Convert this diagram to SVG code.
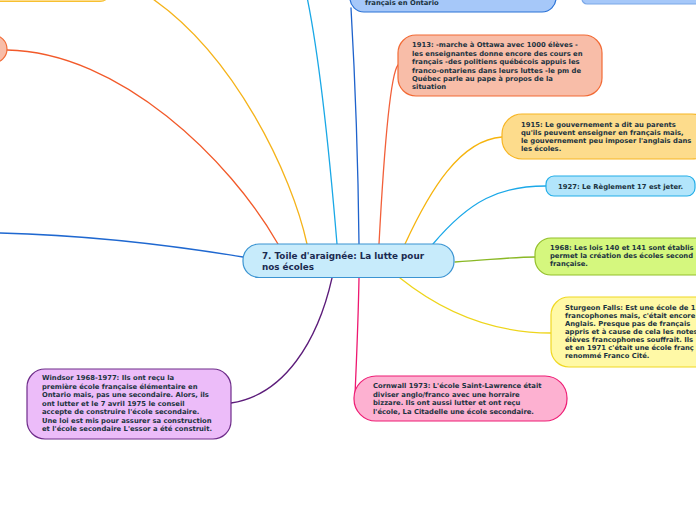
<svg xmlns="http://www.w3.org/2000/svg" width="696" height="520" viewBox="0 0 696 520">
<style>
.c{fill:none;stroke-width:1.3;stroke-linecap:round}
.t{font-family:"DejaVu Sans","Liberation Sans",sans-serif;font-weight:bold;font-size:6.8px;fill:#1b3340}
.title{font-family:"DejaVu Sans","Liberation Sans",sans-serif;font-weight:bold;font-size:8.8px;fill:#1a2a50}
.n{stroke-width:1.2}
</style>
<rect x="0" y="0" width="696" height="520" fill="#ffffff"/>
<g id="connectors">
<path class="c" stroke="#f5b31a" d="M307,244 C292,175 235,55 150,-3"/>
<path class="c" stroke="#f25a2a" d="M278,244 C230,160 120,52 7,50"/>
<path class="c" stroke="#1f68d0" d="M243,257 C170,245 80,235 0,233"/>
<path class="c" stroke="#1aa8e6" d="M337,244 C330,160 320,60 307,-3"/>
<path class="c" stroke="#1e62cc" d="M359,244 C358,150 354,60 351,8"/>
<path class="c" stroke="#f2603a" d="M379,244 C384,150 390,75 398,65"/>
<path class="c" stroke="#f6b40e" d="M405,244 C430,190 460,140 502,137"/>
<path class="c" stroke="#1ba8e8" d="M433,244 C470,200 500,186 546,186"/>
<path class="c" stroke="#8ab825" d="M455,262 C490,260 510,257 536,257"/>
<path class="c" stroke="#eed51c" d="M400,278 C440,310 490,333 551,333"/>
<path class="c" stroke="#ee1870" d="M359,278 C358,330 356,370 355,395"/>
<path class="c" stroke="#5c1c7a" d="M332,278 C318,340 285,395 231,403"/>
</g>
<g id="node-topleft-yellow">
<rect class="n" x="-20" y="-40" width="130" height="41.5" rx="10" fill="#fddc8c" stroke="#f7c030"/>
</g>
<g id="node-left-salmon">
<rect class="n" x="-100" y="35" width="107" height="28" rx="14" fill="#f8bda8" stroke="#f26a35"/>
</g>
<g id="node-top-blue">
<rect class="n" x="350" y="-60" width="206" height="72" rx="14" fill="#a6c8f9" stroke="#2a72d6"/>
<text class="t" x="365" y="4.5">français en Ontario</text>
</g>
<g id="node-topright">
<rect class="n" x="582" y="-30" width="130" height="34" rx="5" fill="#a6c8f9" stroke="#7ba8e8"/>
</g>
<g id="node-center">
<rect x="243" y="244" width="211" height="33.5" rx="16" fill="#c7ebfb" stroke="#3b94d2" stroke-width="1.2"/>
<text class="title" x="262" y="259">7. Toile d'araignée: La lutte pour</text>
<text class="title" x="262" y="270">nos écoles</text>
</g>
<g id="node-1913">
<rect class="n" x="398" y="35" width="204" height="61" rx="18" fill="#f8bda8" stroke="#f26a35"/>
<text class="t" x="412"><tspan x="412" y="47.3">1913: -marche à Ottawa avec 1000 élèves -</tspan><tspan x="412" y="55.7">les enseignantes donne encore des cours en</tspan><tspan x="412" y="64">français -des politiens québécois appuis les</tspan><tspan x="412" y="72.5">franco-ontariens dans leurs luttes -le pm de</tspan><tspan x="412" y="81">Québec parle au pape à propos de la</tspan><tspan x="412" y="89.3">situation</tspan></text>
</g>
<g id="node-1915">
<rect class="n" x="502" y="114" width="210" height="45" rx="20" fill="#fddc8c" stroke="#f7b523"/>
<text class="t"><tspan x="521" y="126.5">1915: Le gouvernement a dit au parents</tspan><tspan x="521" y="134.7">qu'ils peuvent enseigner en français mais,</tspan><tspan x="521" y="143">le gouvernement peu imposer l'anglais dans</tspan><tspan x="521" y="151.2">les écoles.</tspan></text>
</g>
<g id="node-1927">
<rect class="n" x="546" y="176" width="149" height="20" rx="8" fill="#b2e5fb" stroke="#22aee8"/>
<text class="t" x="558" y="188.5">1927: Le Règlement 17 est jeter.</text>
</g>
<g id="node-1968">
<rect class="n" x="535" y="238" width="180" height="37" rx="16" fill="#d5f77e" stroke="#93bf2a"/>
<text class="t"><tspan x="550" y="250">1968: Les lois 140 et 141 sont établis</tspan><tspan x="550" y="258">permet la création des écoles second</tspan><tspan x="550" y="266">française.</tspan></text>
</g>
<g id="node-sturgeon">
<rect class="n" x="551" y="297" width="170" height="70" rx="18" fill="#fff9a6" stroke="#f0d823"/>
<text class="t"><tspan x="565" y="310">Sturgeon Falls: Est une école de 1</tspan><tspan x="565" y="318">francophones mais, c'était encore</tspan><tspan x="565" y="326">Anglais. Presque pas de français</tspan><tspan x="565" y="334">appris et à cause de cela les notes</tspan><tspan x="565" y="342">élèves francophones souffrait. Ils</tspan><tspan x="565" y="350">et en 1971 c'était une école franç</tspan><tspan x="565" y="358">renommé Franco Cité.</tspan></text>
</g>
<g id="node-cornwall">
<rect class="n" x="354" y="376" width="213" height="45" rx="22" fill="#fdb1d1" stroke="#ee1c74"/>
<text class="t"><tspan x="373" y="388.3">Cornwall 1973: L'école Saint-Lawrence était</tspan><tspan x="373" y="396.7">diviser anglo/franco avec une horraire</tspan><tspan x="373" y="405">bizzare. Ils ont aussi lutter et ont reçu</tspan><tspan x="373" y="413.5">l'école, La Citadelle une école secondaire.</tspan></text>
</g>
<g id="node-windsor">
<rect class="n" x="27" y="369" width="204" height="70" rx="18" fill="#ecbcf9" stroke="#6e2c8a"/>
<text class="t"><tspan x="42" y="380">Windsor 1968-1977: Ils ont reçu la</tspan><tspan x="42" y="388.5">première école française élémentaire en</tspan><tspan x="42" y="397">Ontario mais, pas une secondaire. Alors, ils</tspan><tspan x="42" y="405.5">ont lutter et le 7 avril 1975 le conseil</tspan><tspan x="42" y="414">accepte de construire l'école secondaire.</tspan><tspan x="42" y="422.5">Une loi est mis pour assurer sa construction</tspan><tspan x="42" y="431">et l'école secondaire L'essor a été construit.</tspan></text>
</g>
</svg>
